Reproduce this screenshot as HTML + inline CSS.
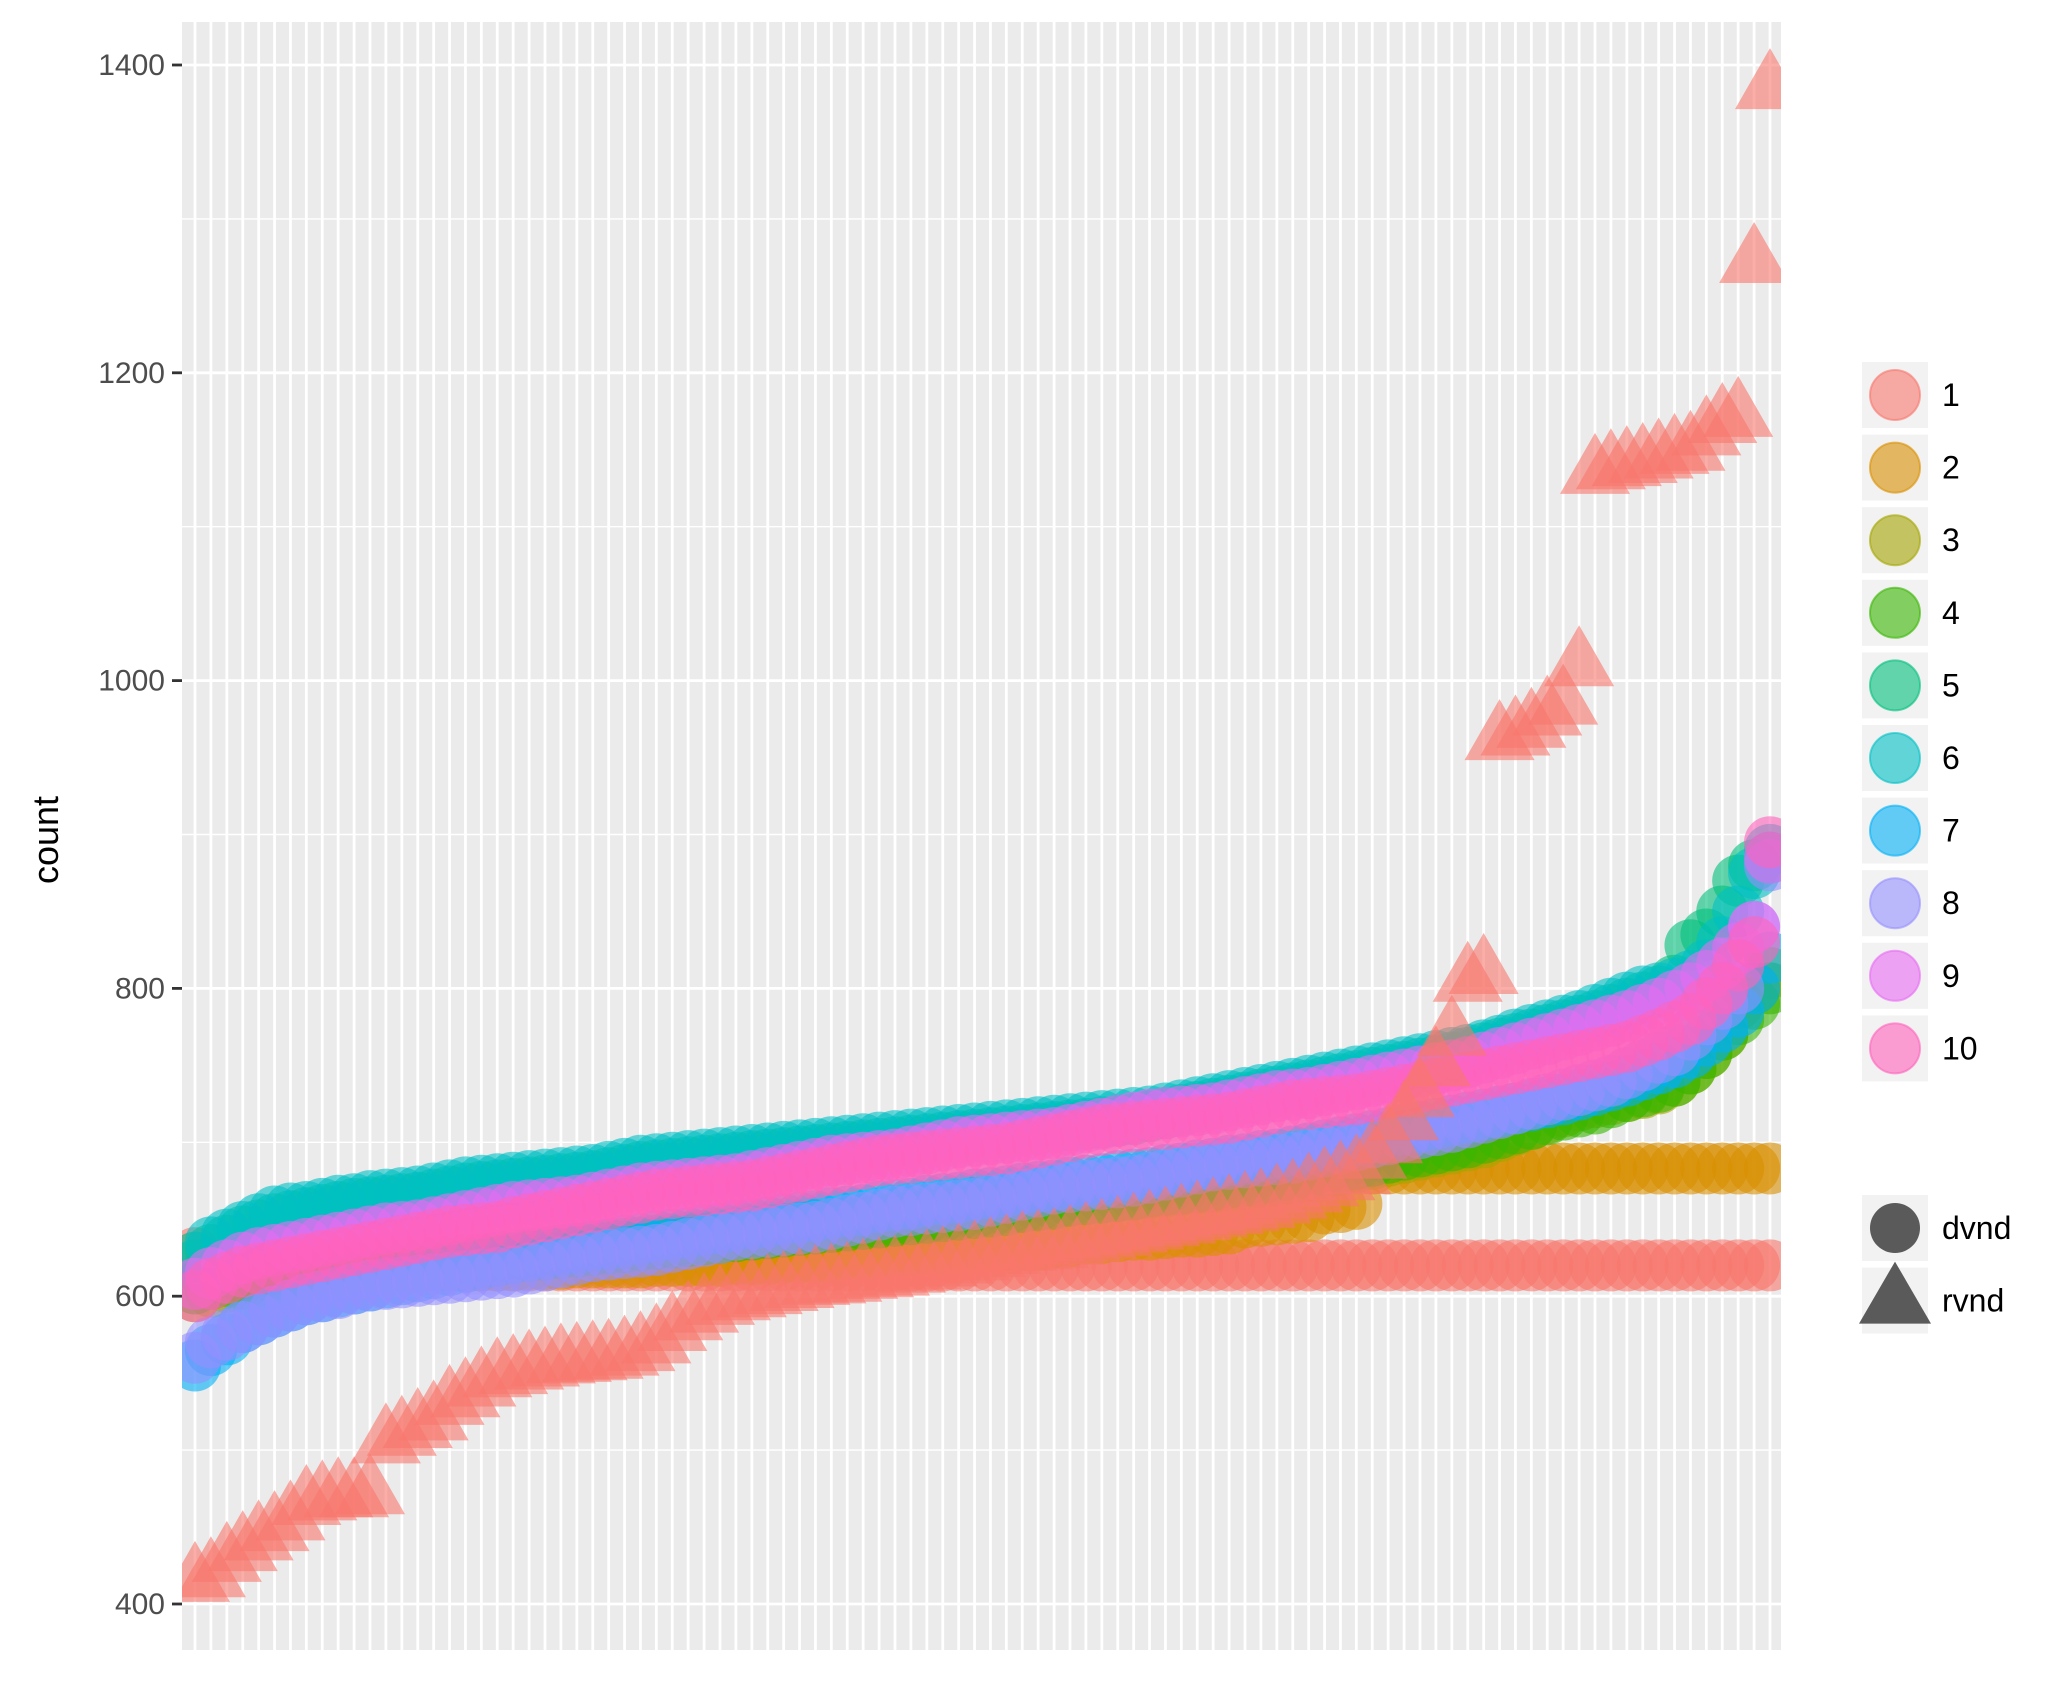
<!DOCTYPE html>
<html><head><meta charset="utf-8"><style>
body{margin:0;background:#fff;}
svg text{font-family:"Liberation Sans",Arial,sans-serif;}
</style></head><body>
<svg id="chart" width="2056" height="1684" xmlns="http://www.w3.org/2000/svg">
<defs><clipPath id="pc"><rect x="182" y="22" width="1599" height="1628"/></clipPath></defs>
<rect x="182" y="22" width="1599" height="1628" fill="#ebebeb"/>
<g id="grid"></g>
<g id="marks" clip-path="url(#pc)"></g>
<g id="yaxis"></g>
<text transform="translate(58,840) rotate(-90)" text-anchor="middle" font-size="36" fill="#000">count</text>
<g id="legend"></g>
</svg>
<script>
const yTicks=[400,600,800,1000,1200,1400];
const yMinor=[500,700,900,1100,1300];
const colors=["#F8766D","#D89000","#A3A500","#39B600","#00BF7D","#00BFC4","#00B0F6","#9590FF","#E76BF3","#FF62BC"];
const seriesLabels=["1","2","3","4","5","6","7","8","9","10"];
const s1=[628,620,620,620,620,620,620,620,620,620,620,620,620,620,620,620,620,620,620,620,620,620,620,620,620,620,620,620,620,620,620,620,620,620,620,620,620,620,620,620,620,620,620,620,620,620,620,620,620,620,620,620,620,620,620,620,620,620,620,620,620,620,620,620,620,620,620,620,620,620,620,620,620,620,620,620,620,620,620,620,620,620,620,620,620,620,620,620,620,620,620,620,620,620,620,620,620,620,620,620];
const s2=[625,616,617,617,618,618,618,618,618,618,619,619,619,619,619,620,620,620,620,620,620,621,621,621,622,622,622,622,622,623,623,623,623,623,624,624,624,625,625,625,626,628,628,629,630,630,631,631,632,632,633,633,634,634,635,636,638,638,639,640,640,641,642,642,643,644,648,649,650,651,652,657,658,660,683,683,683,683,683,683,683,683,683,683,683,683,683,683,683,683,683,683,683,683,683,683,683,683,683,683];
const s3=[600,603,606,608,610,612,613,614,615,616,617,618,619,620,621,622,623,624,625,626,627,628,629,630,631,632,633,634,635,636,637,638,639,640,641,642,643,644,645,646,647,648,649,650,651,652,653,654,655,656,657,658,659,660,661,662,663,664,665,666,667,668,669,670,671,672,673,674,675,676,678,680,682,684,686,688,690,692,694,696,698,700,704,708,712,716,720,724,726,728,730,732,735,740,748,758,770,790,800,810];
const s4=[605,608,610,612,614,615,616,617,618,619,620,621,621,622,622,623,623,624,624,625,625,626,627,628,629,630,631,632,633,634,635,636,637,638,639,640,641,642,643,644,645,646,647,648,649,650,651,652,653,654,655,656,658,659,660,662,663,664,665,666,668,669,670,671,672,674,675,676,677,678,680,682,684,686,688,690,692,694,696,698,700,703,706,709,712,715,718,720,722,726,730,733,736,740,748,758,770,780,790,800];
const s5=[620,630,636,642,646,650,652,654,656,658,660,661,662,663,664,666,668,670,671,672,673,674,675,676,677,678,680,682,684,685,686,687,688,689,690,691,692,693,694,695,696,697,698,699,700,701,702,703,704,705,706,707,708,709,710,711,712,713,714,715,717,719,721,723,725,727,729,731,733,735,737,739,741,743,745,747,749,751,753,755,758,761,764,767,770,773,776,779,782,786,790,794,798,805,828,835,850,870,880,885];
const s6=[625,635,640,645,650,655,657,658,660,662,663,665,666,667,668,670,672,674,675,676,677,678,679,680,681,682,684,686,688,689,690,691,692,693,694,695,696,697,698,699,700,701,702,703,704,705,706,707,708,709,710,711,712,713,714,715,716,717,718,719,720,722,724,726,728,730,732,734,736,738,740,742,744,746,748,750,752,754,756,758,760,763,766,770,773,776,779,782,786,790,794,798,800,803,808,815,830,850,875,890];
const s7=[555,565,572,580,585,590,594,598,600,603,605,607,609,611,613,615,617,619,621,623,625,627,628,630,631,633,634,636,637,639,640,641,643,644,646,647,648,650,651,652,654,655,656,658,659,660,662,663,664,666,667,668,670,671,672,674,675,676,678,679,680,682,683,685,686,688,689,691,692,694,696,698,700,702,704,706,708,710,712,714,716,718,720,722,724,726,728,731,734,737,740,744,748,752,758,766,775,785,800,820];
const s8=[560,570,575,580,585,590,594,598,600,602,605,607,608,609,610,611,612,613,614,615,616,618,620,622,624,626,627,628,629,630,632,634,636,638,640,641,642,643,644,645,647,649,651,653,655,656,657,658,659,660,662,664,666,668,670,671,672,673,674,675,677,679,681,683,685,686,687,688,689,690,692,694,696,698,700,702,704,706,708,710,713,716,719,722,725,728,731,734,737,740,745,750,755,760,770,780,790,800,840,880];
const s9=[608,615,620,625,628,630,632,634,636,638,640,642,644,645,646,648,650,652,654,656,658,659,660,661,662,664,666,668,670,671,672,673,674,675,676,678,680,682,684,686,688,689,690,691,692,694,696,698,700,701,702,703,704,705,706,708,710,712,714,716,718,719,720,721,722,724,726,728,730,731,732,734,736,738,740,742,744,746,748,750,752,755,758,761,764,767,770,773,776,779,782,786,790,795,800,808,816,826,840,885];
const s10=[600,608,612,616,618,620,622,624,626,628,630,632,634,636,638,640,642,643,644,645,648,650,652,654,656,658,660,662,664,666,667,668,669,670,671,672,674,676,678,680,682,684,686,688,689,690,691,692,693,694,695,696,698,700,702,704,706,708,709,710,711,712,713,714,715,716,718,720,722,724,725,726,727,728,730,732,734,736,738,740,742,744,746,748,750,752,754,756,758,760,762,766,770,775,780,790,800,815,830,895];
const rvnd=[415,418,428,435,442,448,455,465,468,470,470,472,505,510,515,520,530,535,542,548,550,553,555,557,558,559,560,562,565,570,578,585,590,595,598,600,602,604,606,608,609,610,612,613,614,616,618,620,622,624,626,628,630,631,632,634,636,638,640,642,644,646,648,650,652,654,656,658,661,664,668,672,676,680,690,700,715,730,750,770,805,810,962,965,970,978,985,1010,1135,1138,1140,1142,1145,1148,1150,1160,1168,1172,1272,1385];
const dvnd=[s1,s2,s3,s4,s5,s6,s7,s8,s9,s10];
const shapeLabels=["dvnd","rvnd"];

const NS="http://www.w3.org/2000/svg";
const X0=182,X1=1781,Y0=22,Y1=1650,N=100;
const step=(1770-195)/99;
function xS(i){return 195+i*step;}
function yS(v){return 65+(1400-v)*1.539;}
function mk(tag,attrs,parent){const e=document.createElementNS(NS,tag);for(const k in attrs)e.setAttribute(k,attrs[k]);parent.appendChild(e);return e;}
const grid=document.getElementById('grid');
yMinor.forEach(v=>{const l=mk('line',{x1:X0,x2:X1,y1:yS(v),y2:yS(v),stroke:'#fff','stroke-width':1.4},grid);

});
yTicks.forEach(v=>{const l=mk('line',{x1:X0,x2:X1,y1:yS(v),y2:yS(v),stroke:'#fff','stroke-width':2.8},grid);

});
for(let i=0;i<N;i++){const l=mk('line',{x1:xS(i),x2:xS(i),y1:Y0,y2:Y1,stroke:'#fff','stroke-width':2.8},grid);

}
const ya=document.getElementById('yaxis');
yTicks.forEach(v=>{const t=mk('line',{x1:172,x2:182,y1:yS(v),y2:yS(v),stroke:'#333','stroke-width':2.8},ya);


const tx=mk('text',{x:165,y:yS(v)+10,'text-anchor':'end','font-size':30,fill:'#4d4d4d'},ya);tx.textContent=v;

});
const marks=document.getElementById('marks');
dvnd.forEach((s,k)=>{const g=mk('g',{},marks);


s.forEach((v,i)=>{const c=mk('circle',{cx:xS(i),cy:yS(v),r:26,fill:colors[k],'fill-opacity':0.6},g);

});});
const tg=mk('g',{},marks);


rvnd.forEach((v,i)=>{const x=xS(i),y=yS(v);const p=mk('polygon',{points:`${x},${y-40} ${x-35},${y+21} ${x+35},${y+21}`,fill:colors[0],'fill-opacity':0.6},tg);

});
const lg=document.getElementById('legend');
seriesLabels.forEach((lab,k)=>{const y=362+k*72.6;
const r=mk('rect',{x:1862,y:y,width:66,height:66,fill:'#f2f2f2'},lg);


const c=mk('circle',{cx:1895,cy:y+33,r:25,fill:colors[k],'fill-opacity':0.6,stroke:colors[k],'stroke-opacity':0.6,'stroke-width':2},lg);


const t=mk('text',{x:1942,y:y+44,'font-size':32,fill:'#000'},lg);t.textContent=lab;

});
shapeLabels.forEach((lab,k)=>{const y=1195+k*72.6;
const r=mk('rect',{x:1862,y:y,width:66,height:66,fill:'#f2f2f2'},lg);


let m;
if(k===0){m=mk('circle',{cx:1895,cy:y+33,r:25,fill:'#333','fill-opacity':0.8},lg);}
else{m=mk('polygon',{points:`1895,${y-6} 1859,${y+56} 1931,${y+56}`,fill:'#333','fill-opacity':0.8},lg);}


const t=mk('text',{x:1942,y:y+44,'font-size':32,fill:'#000'},lg);t.textContent=lab;

});
</script>
</body></html>
